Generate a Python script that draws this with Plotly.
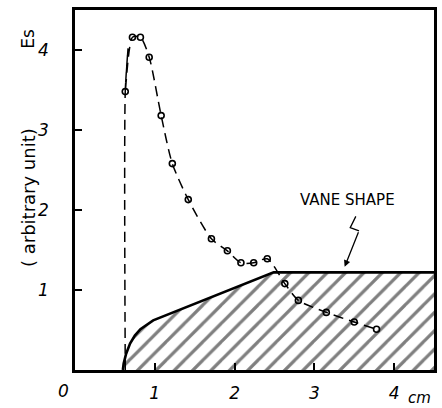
import plotly.graph_objects as go

# Measured field Es (arbitrary unit) vs distance (cm)
es_x = [0.63, 0.72, 0.82, 0.93, 1.08, 1.22, 1.42, 1.71, 1.91, 2.08, 2.24, 2.41, 2.63, 2.80, 3.15, 3.50, 3.78]
es_y = [3.48, 4.16, 4.16, 3.91, 3.18, 2.58, 2.13, 1.64, 1.49, 1.34, 1.34, 1.39, 1.08, 0.87, 0.72, 0.60, 0.51]

# dashed guide curve (starts from the axis, passes over the peak)
curve_x = [0.63, 0.63, 0.665] + es_x
curve_y = [0.0, 3.48, 4.02] + es_y

# Vane shape profile
vane_x = [0.60, 0.61, 0.64, 0.69, 0.75, 0.82, 0.98, 2.49, 4.5]
vane_y = [0.0, 0.08, 0.20, 0.33, 0.43, 0.51, 0.62, 1.22, 1.22]

x_ticks = [1, 2, 3, 4]
y_ticks = [1, 2, 3, 4]

hand = dict(family="DejaVu Sans", size=17, color="black", style="italic")

fig = go.Figure()

fig.add_trace(go.Scatter(
    x=vane_x, y=vane_y, mode="lines",
    line=dict(color="black", width=2.6),
    fill="tozeroy", fillcolor="white",
    fillpattern=dict(shape="/", size=13, solidity=0.25, fgcolor="black", bgcolor="white"),
    hoverinfo="skip", showlegend=False,
))

fig.add_trace(go.Scatter(
    x=curve_x, y=curve_y, mode="lines",
    line=dict(color="black", width=1.5, dash="10px,6px", shape="spline", smoothing=0.7),
    hoverinfo="skip", showlegend=False,
))

fig.add_trace(go.Scatter(
    x=es_x, y=es_y, mode="markers",
    marker=dict(symbol="circle-open", size=6, color="black", line=dict(width=1.6, color="black")),
    showlegend=False,
))

axis_common = dict(
    showgrid=False, zeroline=False, showline=True, linecolor="black", linewidth=2.5,
    mirror=True, ticks="inside", ticklen=7, tickwidth=1.5, tickcolor="black",
    tickfont=hand, range=[0, 4.5], fixedrange=True,
)

fig.update_xaxes(**axis_common, tickvals=x_ticks, ticktext=[str(v) for v in x_ticks], ticklabelstandoff=6)
fig.update_yaxes(**axis_common, tickvals=y_ticks, ticktext=[str(v) for v in y_ticks], ticklabelstandoff=20)

annotations = [
    dict(x=0, y=0, xref="x", yref="y", text="0", showarrow=False, xshift=-12, yshift=-21, font=hand),
    dict(x=4.32, y=0, xref="x", yref="y", text="cm", showarrow=False, yshift=-28,
         font=dict(family="DejaVu Sans", size=15, color="black", style="italic")),
    dict(x=0.0, y=4.14, xref="paper", yref="y", text="Es", showarrow=False, textangle=-90,
         xanchor="center", xshift=-47, font=dict(family="DejaVu Sans", size=17, color="black")),
    dict(x=0.0, y=2.15, xref="paper", yref="y", text="( arbitrary unit)", showarrow=False, textangle=-90,
         xanchor="center", xshift=-47, font=dict(family="DejaVu Sans", size=18, color="black")),
    dict(x=3.42, y=2.12, xref="x", yref="y", text="VANE SHAPE", showarrow=False,
         font=dict(family="DejaVu Sans", size=15, color="black")),
    dict(x=3.38, y=1.29, xref="x", yref="y", ax=3.56, ay=1.74, axref="x", ayref="y",
         showarrow=True, arrowhead=2, arrowsize=1, arrowwidth=1.3, arrowcolor="black", text=""),
]
fig.update_layout(annotations=annotations)

# zigzag part of the label pointer
fig.add_shape(type="path", xref="x", yref="y",
              path="M 3.52 1.92 L 3.45 1.78 L 3.56 1.74",
              line=dict(color="black", width=1.3))

fig.update_layout(
    width=442, height=408,
    margin=dict(l=75, r=5, t=10, b=36),
    paper_bgcolor="white", plot_bgcolor="white",
    showlegend=False,
)

fig.write_html("out.html")
